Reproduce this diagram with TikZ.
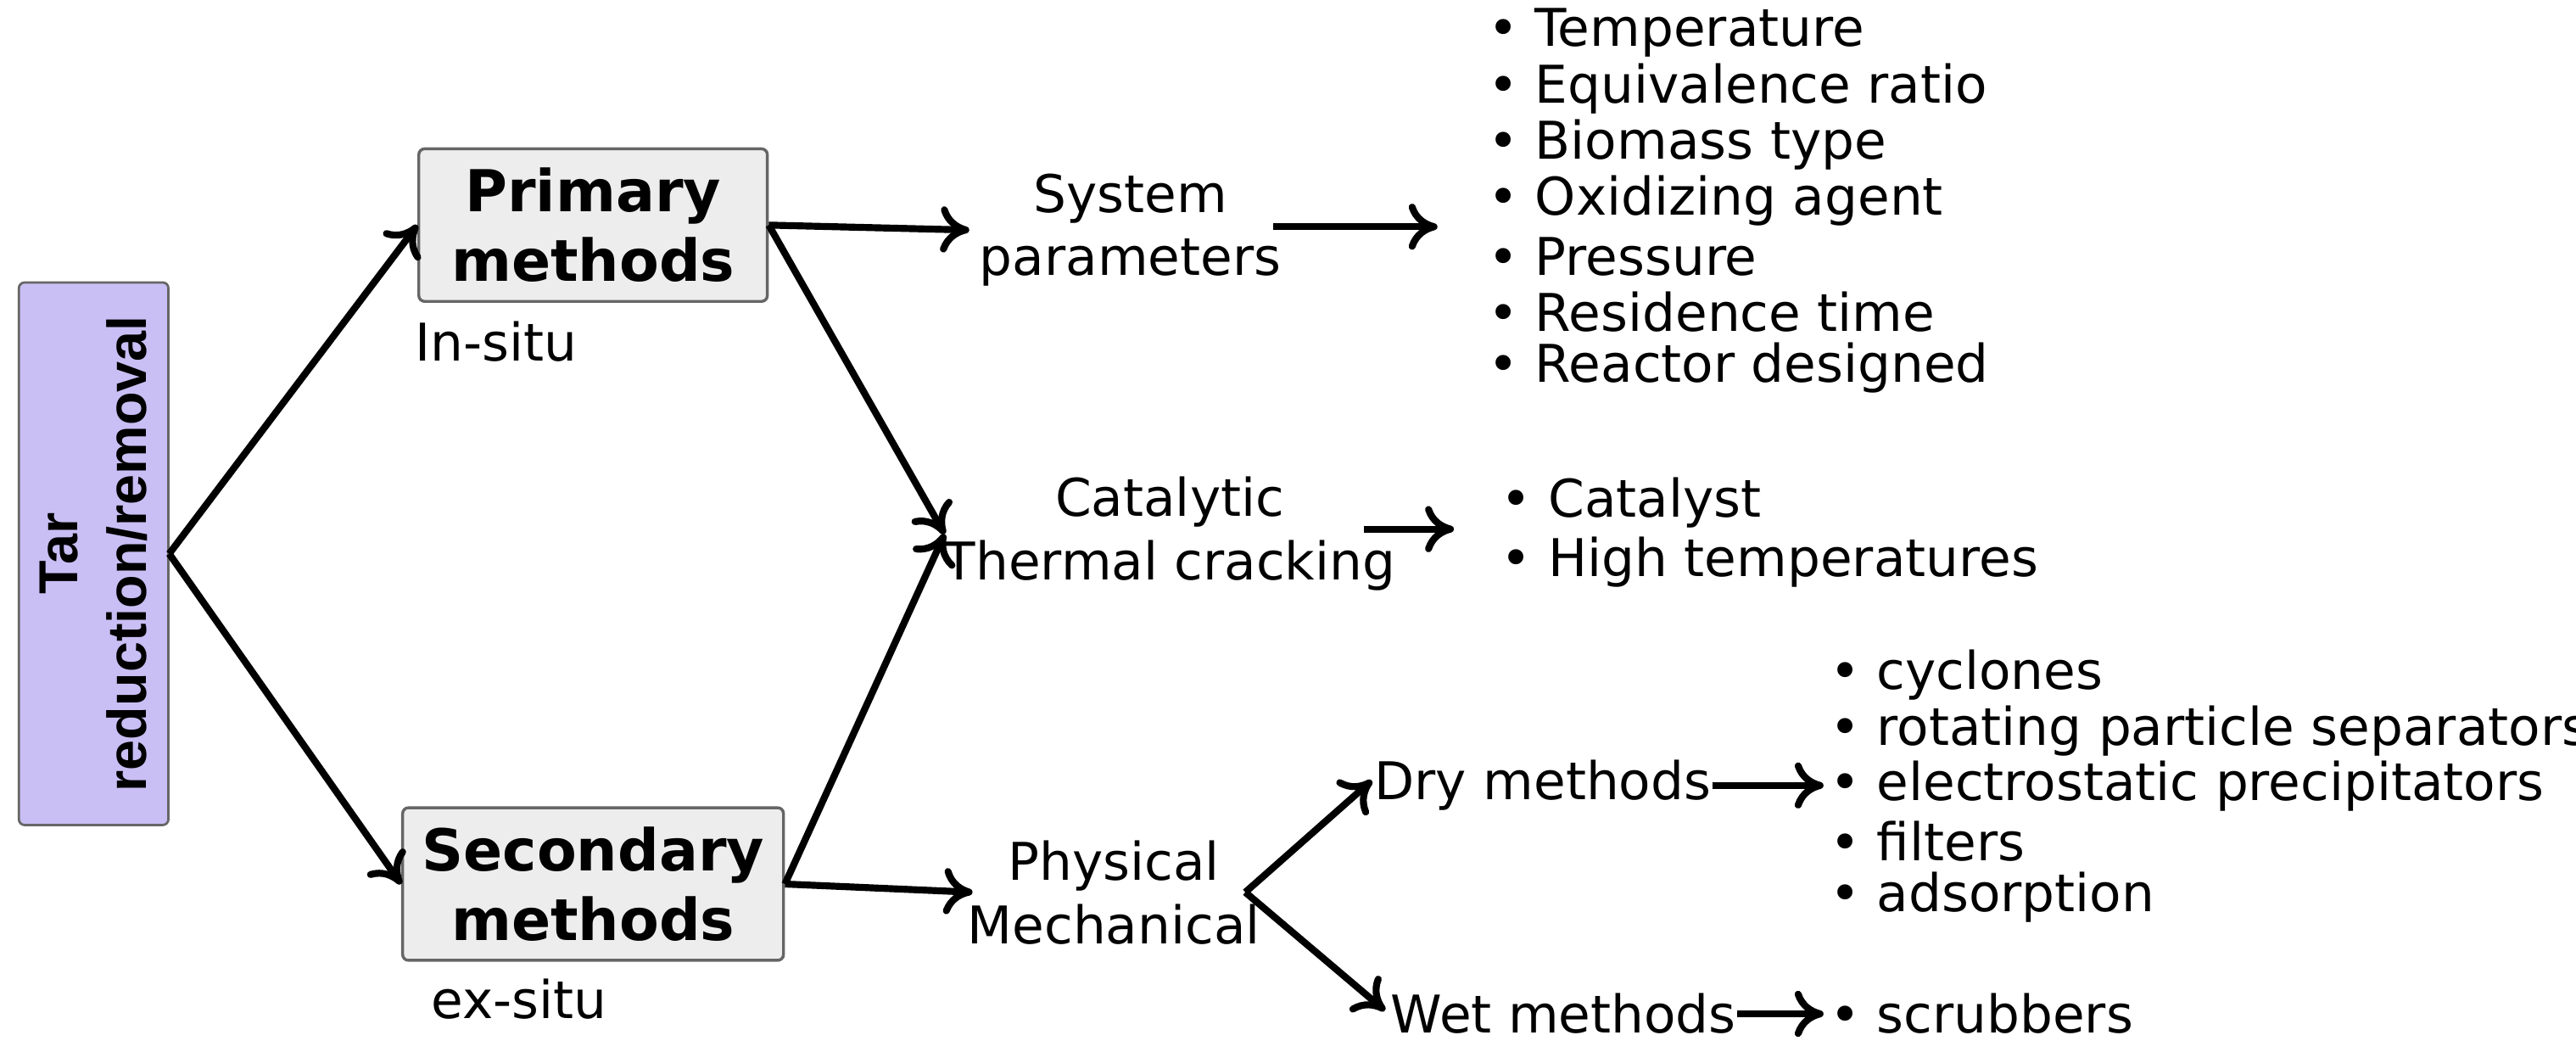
\documentclass[tikz,border=0pt]{standalone}
\usepackage{fontspec}
\setmainfont{DejaVu Sans}
\newfontfamily\narrowf{Liberation Sans}
\usetikzlibrary{arrows.meta}
\begin{document}
\begin{tikzpicture}[x=0.01cm,y=-0.01cm,
  ar/.style={line width=1.2pt,-{To[length=5pt,width=8pt,line width=1.2pt]}},
  txt/.style={font=\fontsize{9}{11}\selectfont,inner sep=0pt,align=center},
  lst/.style={font=\fontsize{9}{11}\selectfont,inner sep=0pt,anchor=west},
  box/.style={draw=black!60,fill=black!7,rounded corners=1pt,line width=0.5pt,font=\bfseries\fontsize{10}{12}\selectfont,align=center,minimum width=2.12cm,minimum height=0.9cm}]
\useasboundingbox (0,0) rectangle (1568,640);
\node[draw=black!60,fill=violet!30!blue!25,minimum width=0.91cm,minimum height=3.3cm,rounded corners=1pt] (tar) at (57,337) {};
\node[rotate=90,font=\narrowf\bfseries\fontsize{9.5}{12}\selectfont,align=center] (tart) at (57,337) {Tar\\reduction/removal};
\node[box] (pri) at (361,137) {Primary\\methods};
\node[box] (sec) at (361,538) {Secondary\\methods};
\node[txt,anchor=west] (ins) at (252,208) {In-situ};
\node[txt,anchor=west] (exs) at (262,608) {ex-situ};
\coordinate (o) at (103,337);
\draw[ar] (o) -- (pri.west);
\draw[ar] (o) -- (sec.west);
\node[txt] (sys) at (688,140) {System\\parameters};
\node[txt] (cat) at (712,325) {Catalytic\\Thermal cracking};
\node[txt] (phy) at (678,543) {Physical\\Mechanical};
\draw[ar] (pri.east) -- (590,140);
\draw[ar] (pri.east) -- (575,325);
\draw[ar] (sec.east) -- (575,325);
\draw[ar] (sec.east) -- (592,543);
\draw[ar] (775,138) -- (875,138);
\foreach \t [count=\i from 0] in {Temperature,Equivalence ratio,Biomass type,Oxidizing agent,Pressure,Residence time,Reactor designed}
  \node[lst] at (905,20+34*\i) {• \t};
\draw[ar] (830,322) -- (885,322);
\node[lst] at (913,306) {• Catalyst};
\node[lst] at (913,342) {• High temperatures};
\node[txt,anchor=west] (dry) at (836,478) {Dry methods};
\node[txt,anchor=west] (wet) at (846,617) {Wet methods};
\coordinate (pm) at (758,543);
\draw[ar] (pm) -- (835,475);
\draw[ar] (pm) -- (843,615);
\draw[ar] (dry.east) -- (1110,478);
\draw[ar] (wet.east) -- (1110,617);
\foreach \t [count=\i from 0] in {cyclones,rotating particle separators,electrostatic precipitators,filters,adsorption}
  \node[lst] at (1113,411+33.7*\i) {• \t};
\node[lst] at (1113,617) {• scrubbers};
\end{tikzpicture}
\end{document}
